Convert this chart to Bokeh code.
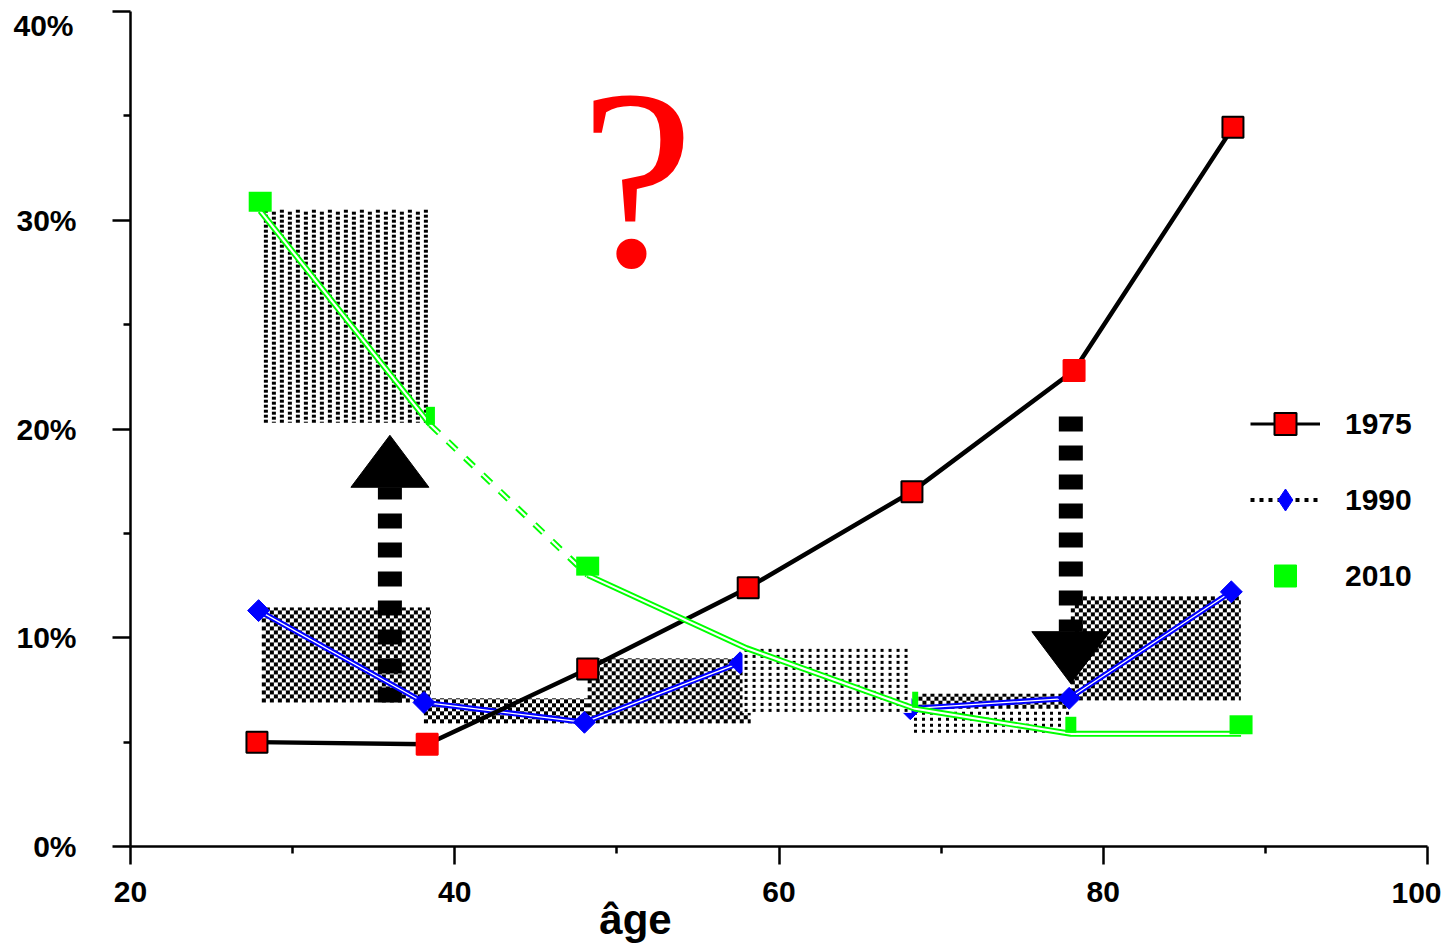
import numpy as np
from bokeh.plotting import figure
from bokeh.models import (Range1d, FixedTicker, Label, Legend, LegendItem, LinearAxis)
from bokeh.embed import file_html
from bokeh.resources import INLINE

# ---------------- data ----------------
X_TICKS = [20, 40, 60, 80, 100]
X_TICK_LABELS = ["20", "40", "60", "80", "100"]
X_MINOR = [30, 50, 70, 90]
Y_TICKS = [0, 10, 20, 30, 40]
Y_TICK_LABELS = ["0%", "10%", "20%", "30%", "40%"]
Y_MINOR = [5, 15, 25, 35]
X_TITLE = "âge"

AGE_1975 = [27.8, 38.3, 48.2, 58.1, 68.2, 78.2, 88.0]
PCT_1975 = [5.0, 4.9, 8.5, 12.4, 17.0, 22.8, 34.45]

AGE_1990 = [27.9, 38.1, 48.0, 57.6, 68.1, 77.9, 87.9]
PCT_1990 = [11.3, 6.9, 5.95, 8.8, 6.6, 7.1, 12.2]

AGE_2010 = [28.0, 38.5, 48.2, 58.0, 68.4, 78.0, 88.5]
PCT_2010 = [30.45, 20.2, 13.0, 9.5, 6.6, 5.4, 5.4]

# shaded zones (age range x percentage range)
ZONE_AGE_FROM = [28.1, 28.1, 38.1, 48.2, 57.75, 68.2, 68.6, 78.0]
ZONE_AGE_TO = [38.4, 38.5, 48.2, 58.25, 68.2, 78.0, 78.0, 88.5]
ZONE_PCT_FROM = [20.3, 6.9, 5.9, 5.9, 6.4, 5.4, 6.6, 7.0]
ZONE_PCT_TO = [30.5, 11.45, 7.1, 9.0, 9.6, 6.6, 7.3, 12.0]
ZONE_KIND = ["dash", "checker", "checker", "checker", "dots", "dots", "checker", "checker"]
ZONE_OVER_1990 = [False, False, False, False, True, False, False, False]

# arrows (age, from %, to %)
ARROW_AGE = [36.0, 78.0]
ARROW_FROM = [6.9, 20.6]
ARROW_TO = [19.7, 7.8]

SERIES_LABELS = ["1975", "1990", "2010"]

# ---------------- styles ----------------
WIDTH, HEIGHT = 1445, 945
B_LEFT, B_RIGHT, B_TOP, B_BOTTOM = 130, 18, 11, 99
FRAME_W = WIDTH - B_LEFT - B_RIGHT
FRAME_H = HEIGHT - B_TOP - B_BOTTOM
PX_X = FRAME_W / (X_TICKS[-1] - X_TICKS[0])
PX_Y = FRAME_H / (Y_TICKS[-1] - Y_TICKS[0])

RED, BLUE, GREEN = "#ff0000", "#0000ff", "#00ff00"
OUTLINE_1975 = ["black", RED, "black", "black", "black", RED, "black"]
MARK_W_2010 = [23, 9, 23, 0, 6, 11, 23]
MARK_H_2010 = [20, 18, 19, 0, 16, 16, 19]
MARK_LIFT_PX = 9
HEAD_LEN_PX, HEAD_W_PX = 52, 78
FONT = "Liberation Sans"
LAST_X_LABEL_SHIFT_PX = -11    # "100" sits left of its tick
TOP_Y_LABEL_SHIFT_PX = -14     # "40%" sits below its tick
X_TITLE_AT = 51.15
X2_STANDOFF = -22
X3_STANDOFF = -10
Y2_STANDOFF = -60

p = figure(width=WIDTH, height=HEIGHT, output_backend="svg", toolbar_location=None,
           x_range=Range1d(X_TICKS[0], X_TICKS[-1]), y_range=Range1d(Y_TICKS[0], Y_TICKS[-1]),
           min_border_left=B_LEFT, min_border_right=B_RIGHT,
           min_border_top=B_TOP, min_border_bottom=B_BOTTOM)
p.xgrid.grid_line_color = None
p.ygrid.grid_line_color = None
p.outline_line_color = None
p.background_fill_color = "white"


def texture(kind, w, h):
    iy, ix = np.mgrid[0:h, 0:w]
    if kind == "checker":
        mask = ((ix // 4 + iy // 4) % 2) == 0
    elif kind == "dash":
        col = ix % 8
        row = (iy + (ix // 8 % 2) * 2) % 5
        mask = (col >= 2) & (col < 6) & (row < 3)
    else:  # dots
        col = ix % 8
        row = iy % 6
        mask = (col >= 2) & (col < 5) & (row >= 1) & (row < 4)
    rgba = np.full((h, w, 4), 255, dtype=np.uint8)
    rgba[mask] = (0, 0, 0, 255)
    return rgba.view(dtype=np.uint32).reshape((h, w))


def draw_zones(over):
    for i, kind in enumerate(ZONE_KIND):
        if ZONE_OVER_1990[i] != over:
            continue
        w = int(round((ZONE_AGE_TO[i] - ZONE_AGE_FROM[i]) * PX_X))
        h = int(round((ZONE_PCT_TO[i] - ZONE_PCT_FROM[i]) * PX_Y))
        p.image_rgba(image=[texture(kind, w, h)], x=ZONE_AGE_FROM[i], y=ZONE_PCT_FROM[i],
                     dw=w / PX_X, dh=h / PX_Y)


draw_zones(False)

# arrows
shaft_end = [t - np.sign(t - f) * HEAD_LEN_PX / PX_Y for f, t in zip(ARROW_FROM, ARROW_TO)]
p.segment(x0=ARROW_AGE, y0=ARROW_FROM, x1=ARROW_AGE, y1=shaft_end, line_color="black",
          line_width=24, line_dash="15 14", line_cap="butt")
half_w = HEAD_W_PX / 2 / PX_X
p.patches(xs=[[a - half_w, a + half_w, a] for a in ARROW_AGE],
          ys=[[b, b, t] for b, t in zip(shaft_end, ARROW_TO)],
          fill_color="black", line_color="black", line_width=1)

# 1990
p.line(AGE_1990, PCT_1990, line_color=BLUE, line_width=5.5)
p.line(AGE_1990, PCT_1990, line_color="white", line_width=1.3)
p.scatter(AGE_1990, PCT_1990, marker="square", angle=np.pi / 4, size=15.5,
          fill_color=BLUE, line_color=BLUE)

draw_zones(True)

# 1975
p.line(AGE_1975, PCT_1975, line_color="black", line_width=4.5)
p.scatter(x=AGE_1975, y=PCT_1975, marker="square", size=21, fill_color=RED,
          line_color=OUTLINE_1975, line_width=2)

# 2010 (double line, dashed between the 2nd and 3rd points)
for xs, ys, dash in [(AGE_2010[:2], PCT_2010[:2], "solid"),
                     (AGE_2010[2:], PCT_2010[2:], "solid"),
                     (AGE_2010[1:3], PCT_2010[1:3], "12 12")]:
    p.line(xs, ys, line_color=GREEN, line_width=6, line_dash=dash)
    p.line(xs, ys, line_color="white", line_width=2.2, line_dash=dash)
keep = [i for i, w in enumerate(MARK_W_2010) if w > 0]
p.rect(x=[AGE_2010[i] for i in keep],
       y=[PCT_2010[i] + MARK_LIFT_PX / PX_Y for i in keep],
       width=[MARK_W_2010[i] for i in keep], height=[MARK_H_2010[i] for i in keep],
       width_units="screen", height_units="screen", fill_color=GREEN, line_color=None)

# "?"
p.add_layout(Label(x=51.24, y=32.0, text="?", text_font="Liberation Serif",
                   text_font_size="256px", text_color=RED, text_align="center",
                   text_baseline="alphabetic"))


def style_axis(ax, size="30px"):
    ax.axis_line_width = 2.5
    ax.axis_line_color = "black"
    ax.major_tick_line_width = 2.5
    ax.minor_tick_line_width = 2.5
    ax.major_tick_in = 0
    ax.minor_tick_in = 0
    ax.major_label_text_font = FONT
    ax.major_label_text_font_style = "bold"
    ax.major_label_text_font_size = size
    ax.major_label_text_color = "black"


def hidden_axis(ax):
    ax.axis_line_color = None
    ax.major_tick_line_color = None
    ax.minor_tick_line_color = None
    ax.major_tick_out = 0
    ax.minor_tick_out = 0


# main axes
xa, ya = p.xaxis[0], p.yaxis[0]
for ax in (xa, ya):
    style_axis(ax)
    ax.major_tick_out = 18
    ax.minor_tick_out = 7
xa.ticker = FixedTicker(ticks=X_TICKS, minor_ticks=X_MINOR)
ya.ticker = FixedTicker(ticks=Y_TICKS, minor_ticks=Y_MINOR)
xo = dict(zip(X_TICKS, X_TICK_LABELS))
yo = dict(zip(Y_TICKS, Y_TICK_LABELS))
xo[X_TICKS[-1]] = ""
yo[Y_TICKS[-1]] = ""
xa.major_label_overrides = xo
ya.major_label_overrides = yo
xa.major_label_standoff = 17
ya.major_label_standoff = 36

# edge labels that must stay inside the canvas (label-only axes)
x_last = X_TICKS[-1] + LAST_X_LABEL_SHIFT_PX / PX_X
xa2 = LinearAxis(ticker=FixedTicker(ticks=[x_last], minor_ticks=[]),
                 major_label_overrides={x_last: X_TICK_LABELS[-1]})
style_axis(xa2)
hidden_axis(xa2)
xa2.major_label_standoff = X2_STANDOFF
p.add_layout(xa2, "below")

y_top = Y_TICKS[-1] + TOP_Y_LABEL_SHIFT_PX / PX_Y
ya2 = LinearAxis(ticker=FixedTicker(ticks=[y_top], minor_ticks=[]),
                 major_label_overrides={y_top: Y_TICK_LABELS[-1]})
style_axis(ya2)
hidden_axis(ya2)
ya2.major_label_standoff = Y2_STANDOFF
p.add_layout(ya2, "left")

# axis title placed under the axis at its position in the reference
xa3 = LinearAxis(ticker=FixedTicker(ticks=[X_TITLE_AT], minor_ticks=[]),
                 major_label_overrides={X_TITLE_AT: X_TITLE})
style_axis(xa3, "42px")
hidden_axis(xa3)
xa3.major_label_standoff = X3_STANDOFF
p.add_layout(xa3, "below")

# legend (legend-only renderers, nothing drawn in the frame)
nan = np.array([np.nan])
l75 = p.line(nan, nan, line_color="black", line_width=3)
m75 = p.scatter(nan, nan, marker="square", fill_color=RED, line_color="black", line_width=2)
l90 = p.line(nan, nan, line_color="black", line_width=4, line_dash="4 5")
m90 = p.scatter(nan, nan, marker="diamond", fill_color=BLUE, line_color=BLUE)
m10 = p.scatter(nan, nan, marker="square", fill_color=GREEN, line_color=GREEN)
legend = Legend(items=[LegendItem(label=SERIES_LABELS[0], renderers=[l75, m75]),
                       LegendItem(label=SERIES_LABELS[1], renderers=[l90, m90]),
                       LegendItem(label=SERIES_LABELS[2], renderers=[m10])],
                location=(1120, 243), glyph_width=70, glyph_height=55, label_standoff=25,
                spacing=21, padding=0, margin=0, border_line_color=None,
                background_fill_alpha=0, label_text_font=FONT, label_text_color="black",
                label_text_font_style="bold", label_text_font_size="30px")
p.add_layout(legend)

open("out.html", "w").write(file_html(p, INLINE))
